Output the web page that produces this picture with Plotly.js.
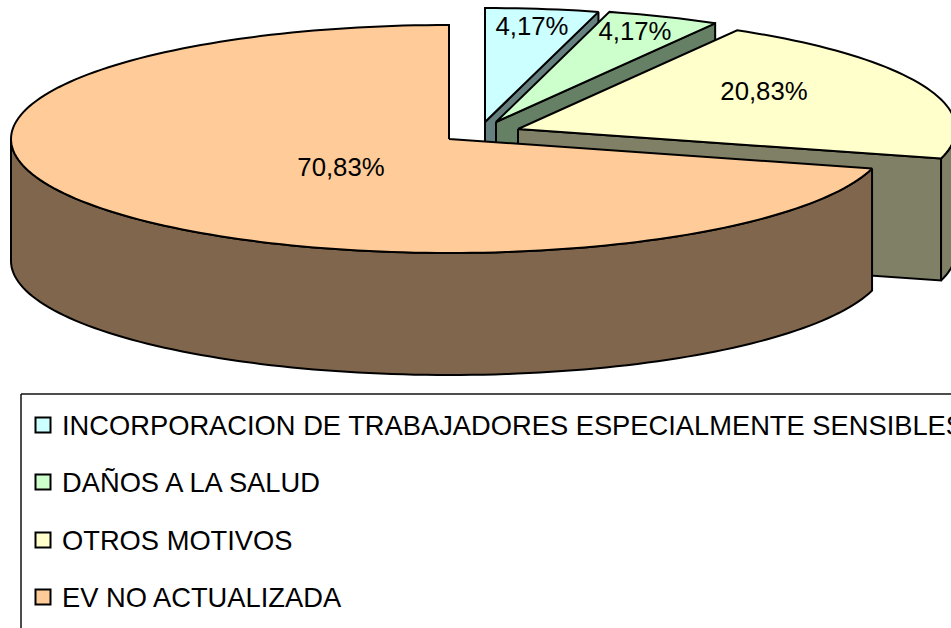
<!DOCTYPE html>
<html>
<head>
<meta charset="utf-8">
<script src="https://cdn.plot.ly/plotly-3.0.1.min.js"></script>
<style>html,body{margin:0;padding:0;background:#fff;overflow:hidden}</style>
</head>
<body>
<div id="chart" style="width:951px;height:628px"></div>
<script>
// ---- data ----
const categories = [
  "INCORPORACION DE TRABAJADORES ESPECIALMENTE SENSIBLES",
  "DAÑOS A LA SALUD",
  "OTROS MOTIVOS",
  "EV NO ACTUALIZADA"
];
const percentages = [4.17, 4.17, 20.83, 70.83];

// ---- styles and layout constants ----
const topColors  = ["#CCFFFF", "#CCFFCC", "#FFFFCC", "#FFCC99"];
const wallColors = ["#668080", "#668066", "#808066", "#80664D"];
const apexX = [485, 496, 518, 449];
const apexY = [122, 122, 129, 139];
const labelX = [532, 635, 764, 341];
const labelY = [29, 34, 94, 170];
const legendRowY = [425, 482, 540, 597];
const RX = 438, RY = 114, DEPTH = 122;
const FONT = "Liberation Sans, Arial, sans-serif";

// angle measured clockwise from 12 o'clock, in degrees
const px = (i, a) => apexX[i] + RX * Math.sin(a * Math.PI / 180);
const py = (i, a) => apexY[i] - RY * Math.cos(a * Math.PI / 180);

function polygon(points, fill) {
  return {
    type: "scatter", mode: "lines", fill: "toself", fillcolor: fill,
    x: points.map(p => p[0]), y: points.map(p => p[1]),
    line: {color: "#000", width: 2, simplify: false},
    hoverinfo: "skip", showlegend: false
  };
}
function arc(i, a0, a1, dy) {
  const n = Math.max(2, Math.ceil(Math.abs(a1 - a0) / 1.5));
  const out = [];
  for (let k = 0; k <= n; k++) {
    const a = a0 + (a1 - a0) * k / n;
    out.push([px(i, a), py(i, a) + dy]);
  }
  return out;
}

const traces = [];
let cum = 0;
const total = percentages.reduce((s, v) => s + v, 0);
percentages.forEach((v, i) => {
  const a0 = cum / total * 360;
  const a1 = (cum + v) / total * 360;
  cum += v;
  const apex = [apexX[i], apexY[i]];
  const closing = [apex];
  // cut face at the end angle (visible for slices on the right of the back half)
  if (a1 < 180) {
    traces.push(polygon([
      apex, [px(i, a1), py(i, a1)], [px(i, a1), py(i, a1) + DEPTH],
      [apex[0], apex[1] + DEPTH], apex
    ], wallColors[i]));
  }
  // outer wall on the front half of the ellipse
  const w0 = Math.max(a0, 90), w1 = Math.min(a1, 270);
  if (w1 > w0) {
    traces.push(polygon(
      arc(i, w0, w1, 0).concat(arc(i, w1, w0, DEPTH)).concat([[px(i, w0), py(i, w0)]]),
      wallColors[i]
    ));
  }
  // top face
  traces.push(polygon(closing.concat(arc(i, a0, a1, 0)).concat([apex]), topColors[i]));
});

// percentage labels
traces.push({
  type: "scatter", mode: "text",
  x: labelX, y: labelY,
  text: percentages.map(v => v.toFixed(2).replace(".", ",") + "%"),
  textposition: "middle center",
  textfont: {family: FONT, size: 25.75, color: "#000"},
  hoverinfo: "skip", showlegend: false
});

// legend swatches
traces.push({
  type: "scatter", mode: "markers",
  x: categories.map(() => 43), y: legendRowY,
  marker: {symbol: "square", size: 15, color: topColors, line: {color: "#000", width: 2}},
  hoverinfo: "skip", showlegend: false
});

const layout = {
  width: 951, height: 628, autosize: false,
  margin: {l: 0, r: 0, t: 0, b: 0, pad: 0},
  paper_bgcolor: "#fff", plot_bgcolor: "#fff",
  showlegend: false,
  xaxis: {range: [0, 951], visible: false, fixedrange: true},
  yaxis: {range: [628, 0], visible: false, fixedrange: true},
  shapes: [
    {type: "line", xref: "x", yref: "y", x0: 21, x1: 951, y0: 394, y1: 394, line: {color: "#111", width: 1.5}},
    {type: "line", xref: "x", yref: "y", x0: 21, x1: 21, y0: 394, y1: 628, line: {color: "#111", width: 1.5}}
  ],
  annotations: categories.map((c, i) => ({
    text: c, xref: "x", yref: "y", x: 60, y: legendRowY[i],
    xanchor: "left", yanchor: "middle", showarrow: false,
    font: {family: FONT, size: 27.3, color: "#000"}
  }))
};

Plotly.newPlot("chart", traces, layout, {displayModeBar: false, staticPlot: true});
</script>
</body>
</html>
